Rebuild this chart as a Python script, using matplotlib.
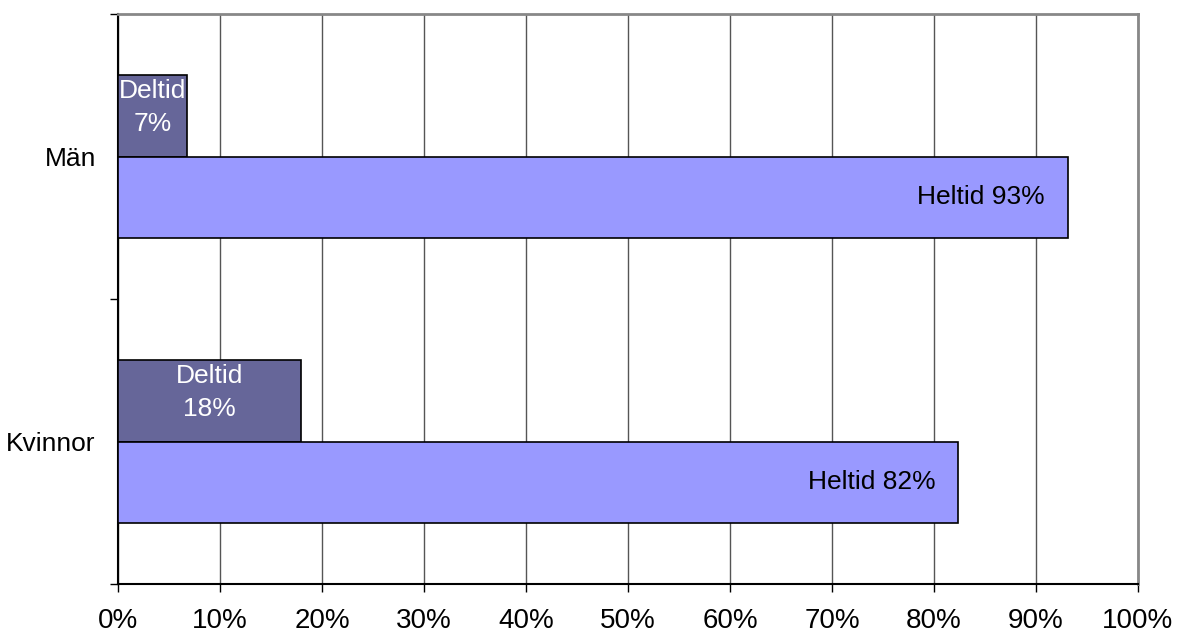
import matplotlib as mpl
mpl.use('Agg')
import matplotlib.pyplot as plt
from matplotlib.ticker import MultipleLocator, FuncFormatter

plt.rcParams['font.family'] = ['Liberation Sans', 'DejaVu Sans']

# data
categories = ['Kvinnor', 'Män']
deltid = [17.9, 6.8]
heltid = [82.4, 93.1]
deltid_labels = ['Deltid\n18%', 'Deltid\n7%']
heltid_labels = ['Heltid 82%', 'Heltid 93%']

fig = plt.figure(figsize=(11.84, 6.35), dpi=100)
ax = fig.add_axes([118/1184, 1-584/635, 1020/1184, 570/635])

h = 0.285
pos = [0.5, 1.5]
for i, c in enumerate(categories):
    ax.barh(pos[i] + h/2, deltid[i], height=h, color='#666699', edgecolor='black', linewidth=1.2, zorder=3)
    ax.barh(pos[i] - h/2, heltid[i], height=h, color='#9999FF', edgecolor='black', linewidth=1.2, zorder=3)
    ax.text(deltid[i]/2, pos[i] + h/2 + 0.03, deltid_labels[i], color='white', fontsize=19,
            ha='center', va='center', linespacing=1.45, zorder=4)
    ax.text(heltid[i] - 8.5, pos[i] - h/2, heltid_labels[i], color='black', fontsize=19,
            ha='center', va='center', zorder=4)

ax.set_xlim(0, 100)
ax.set_ylim(0, 2)
ax.xaxis.set_major_locator(MultipleLocator(10))
ax.xaxis.set_major_formatter(FuncFormatter(lambda v, p: '%d%%' % v))
ax.set_yticks([0, 1, 2])
ax.set_yticklabels([])
ax.set_yticks(pos, minor=True)
ax.set_yticklabels(categories, minor=True)
ax.tick_params(axis='y', which='minor', length=0, labelsize=19, pad=16)
ax.tick_params(axis='y', which='major', length=6, width=1)
ax.tick_params(axis='x', length=6, width=1, labelsize=20, pad=11)
ax.grid(True, axis='x', color='#555555', linewidth=1, zorder=0)
ax.spines['top'].set_color('#888888')
ax.spines['right'].set_color('#888888')
ax.spines['top'].set_linewidth(2)
ax.spines['right'].set_linewidth(2)
ax.spines['left'].set_linewidth(1.5)
ax.spines['bottom'].set_linewidth(1.5)

plt.savefig('out.png', dpi=100)
